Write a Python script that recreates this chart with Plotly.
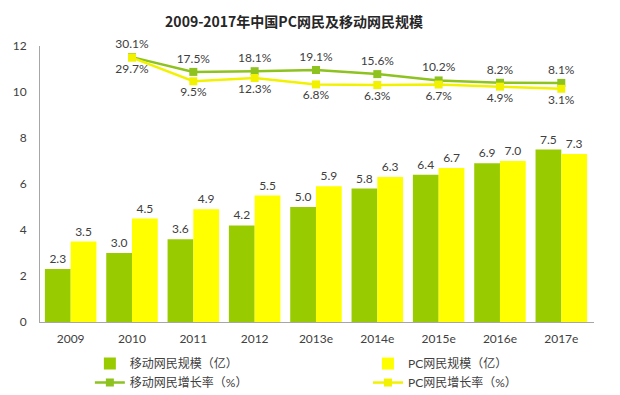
import plotly.graph_objects as go

years = ["2009", "2010", "2011", "2012", "2013e", "2014e", "2015e", "2016e", "2017e"]
mobile_users = [2.3, 3.0, 3.6, 4.2, 5.0, 5.8, 6.4, 6.9, 7.5]
pc_users = [3.5, 4.5, 4.9, 5.5, 5.9, 6.3, 6.7, 7.0, 7.3]
growth_years = ["2010", "2011", "2012", "2013e", "2014e", "2015e", "2016e", "2017e"]
mobile_growth = [30.1, 17.5, 18.1, 19.1, 15.6, 10.2, 8.2, 8.1]
pc_growth = [29.7, 9.5, 12.3, 6.8, 6.3, 6.7, 4.9, 3.1]

GREEN = "#99CC00"
YELLOW = "#FFFF00"
LINE_GREEN = "#8DC21F"
LINE_YELLOW = "#F2F200"
TXT = "#404040"
FONT = "Lato, 'Noto Sans CJK SC', sans-serif"

W, H = 612, 387  # page body has an 8px margin

fig = go.Figure()
fig.add_trace(go.Bar(
    x=years, y=mobile_users, name="移动网民规模（亿）", legend="legend",
    marker=dict(color=GREEN, line=dict(width=0)),
    text=[f"{v:.1f}" for v in mobile_users], textposition="outside",
    textfont=dict(size=12, color=TXT), cliponaxis=False,
))
fig.add_trace(go.Bar(
    x=years, y=pc_users, name="PC网民规模（亿）", legend="legend2",
    marker=dict(color=YELLOW, line=dict(width=0)),
    text=[f"{v:.1f}" for v in pc_users], textposition="outside",
    textfont=dict(size=12, color=TXT), cliponaxis=False,
))
fig.add_trace(go.Scatter(
    x=growth_years, y=mobile_growth, name="移动网民增长率（%）", yaxis="y2",
    legend="legend",
    mode="lines+markers+text",
    line=dict(color=LINE_GREEN, width=2.5),
    marker=dict(symbol="square", size=8, color=LINE_GREEN),
    text=[f"{v:.1f}%" for v in mobile_growth], textposition="top center",
    textfont=dict(size=12, color=TXT), cliponaxis=False,
))
fig.add_trace(go.Scatter(
    x=growth_years, y=pc_growth, name="PC网民增长率（%）", yaxis="y2",
    legend="legend2",
    mode="lines+markers+text",
    line=dict(color=LINE_YELLOW, width=2.5),
    marker=dict(symbol="square", size=8, color=LINE_YELLOW),
    text=[f"{v:.1f}%" for v in pc_growth], textposition="bottom center",
    textfont=dict(size=12, color=TXT), cliponaxis=False,
))

legend_common = dict(orientation="v", yanchor="top", y=-0.098, xanchor="left",
                     itemwidth=30, tracegroupgap=0, font=dict(size=12, color=TXT),
                     bgcolor="rgba(0,0,0,0)", traceorder="normal")

fig.update_layout(
    width=W, height=H,
    margin=dict(l=32, r=26, t=38, b=73, autoexpand=False),
    paper_bgcolor="white", plot_bgcolor="white",
    font=dict(family=FONT, size=12, color=TXT),
    title=dict(text="<b>2009-2017年中国PC网民及移动网民规模</b>",
               x=286/W, xanchor="center", y=1-14/H, yanchor="middle",
               yref="container",
               font=dict(family="'Noto Sans CJK SC', sans-serif", size=14, color="#262626")),
    barmode="group", bargap=0.16, bargroupgap=0,
    showlegend=True,
    legend=dict(x=0.09, **legend_common),
    legend2=dict(x=0.592, **legend_common),
    xaxis=dict(showline=True, linecolor="#A6A6A6", linewidth=1, showgrid=False,
               ticks="", tickfont=dict(size=12, color=TXT), ticklabelstandoff=6),
    yaxis=dict(range=[0, 12], dtick=2, showline=True, linecolor="#A6A6A6", linewidth=1,
               showgrid=False, zeroline=False, ticks="",
               tickfont=dict(size=12, color=TXT), ticklabelstandoff=10),
    yaxis2=dict(range=[-196, 39.6], overlaying="y", side="right", visible=False,
                showgrid=False, zeroline=False),
)

fig.write_html("out.html")
